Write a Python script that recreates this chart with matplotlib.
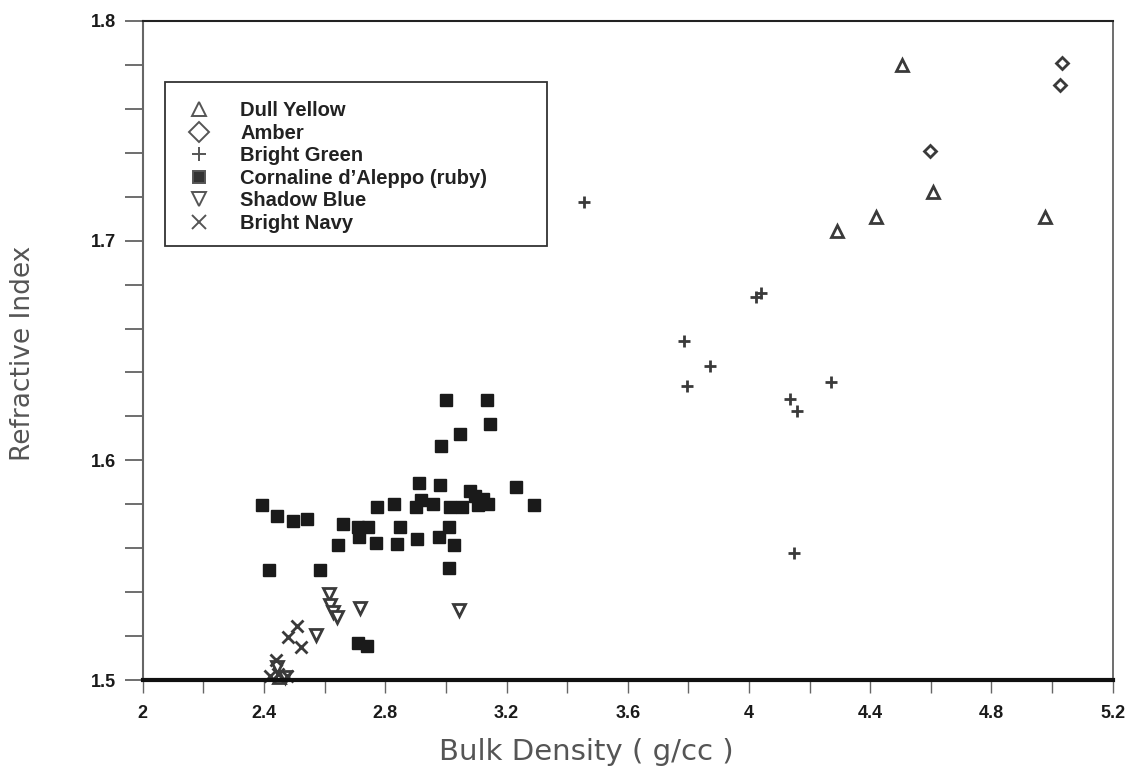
import matplotlib
matplotlib.use("Agg")
import matplotlib.pyplot as plt
from matplotlib.ticker import MultipleLocator, FuncFormatter
from matplotlib.patches import Rectangle

plt.rcParams['font.family'] = ['Liberation Sans Narrow', 'Liberation Sans', 'DejaVu Sans']

# Dull Yellow
dull_x = [4.506, 4.289, 4.420, 4.607, 4.976, 2.450]
dull_y = [1.780, 1.7045, 1.7106, 1.722, 1.7106, 1.5015]
# Amber
amber_x = [5.034, 5.025, 4.596]
amber_y = [1.7806, 1.771, 1.741]
# Bright Green
green_x = [3.455, 4.024, 4.039, 3.785, 3.871, 3.797, 4.272, 4.137, 4.158, 4.149]
green_y = [1.7174, 1.6742, 1.676, 1.6542, 1.643, 1.634, 1.6355, 1.628, 1.6224, 1.558]
# Cornaline d'Aleppo (ruby)
ruby_x = [3.000, 3.134, 3.145, 3.048, 2.983, 2.912, 2.980, 3.231, 3.079, 3.095,
          3.123, 3.139, 3.106, 3.290, 2.394, 2.441, 2.496, 2.540, 2.774, 2.828,
          2.901, 2.919, 2.958, 3.013, 3.052, 2.661, 2.710, 2.743, 2.714, 2.850,
          2.769, 2.837, 2.645, 2.903, 2.978, 3.011, 3.026, 3.011, 2.417, 2.586,
          2.710, 2.738]
ruby_y = [1.6273, 1.6273, 1.6167, 1.612, 1.6064, 1.5897, 1.589, 1.5879, 1.586, 1.584,
          1.5826, 1.580, 1.5795, 1.5795, 1.5795, 1.5745, 1.5724, 1.5732, 1.579, 1.580,
          1.5788, 1.582, 1.580, 1.5788, 1.5788, 1.571, 1.5697, 1.5697, 1.565, 1.5697,
          1.5626, 1.5621, 1.5614, 1.5644, 1.565, 1.5697, 1.5614, 1.551, 1.5503, 1.5503,
          1.5167, 1.5156]
# Shadow Blue
blue_x = [2.615, 2.619, 2.628, 2.641, 2.718, 3.044, 2.570, 2.441, 2.470]
blue_y = [1.5394, 1.534, 1.531, 1.5285, 1.5326, 1.5318, 1.5205, 1.506, 1.5015]
# Bright Navy
navy_x = [2.509, 2.480, 2.523, 2.439, 2.419, 2.474, 2.446]
navy_y = [1.5245, 1.5197, 1.5152, 1.509, 1.5018, 1.5018, 1.503]

labels = ["Dull Yellow", "Amber", "Bright Green", "Cornaline d\u2019Aleppo (ruby)",
          "Shadow Blue", "Bright Navy"]

mk = '#3a3a3a'
fig = plt.figure(figsize=(11.25, 7.72), dpi=100)
ax = fig.add_axes([0.127, 0.119, 0.862, 0.854])

ax.plot(dull_x, dull_y, ls='none', marker='^', ms=8, mfc='white', mec=mk, mew=2, label=labels[0], clip_on=False)
ax.plot(amber_x, amber_y, ls='none', marker='D', ms=6, mfc='white', mec=mk, mew=2, label=labels[1], clip_on=False)
ax.plot(green_x, green_y, ls='none', marker='+', ms=9, mec=mk, mew=2, label=labels[2], clip_on=False)
ax.plot(ruby_x, ruby_y, ls='none', marker='s', ms=9, mfc='#1a1a1a', mec='#1a1a1a', label=labels[3], clip_on=False)
ax.plot(blue_x, blue_y, ls='none', marker='v', ms=8, mfc='white', mec=mk, mew=2, label=labels[4], clip_on=False)
ax.plot(navy_x, navy_y, ls='none', marker='x', ms=9, mec=mk, mew=2, label=labels[5], clip_on=False)

ax.set_xlim(2, 5.2)
ax.set_ylim(1.5, 1.8)
ax.xaxis.set_major_locator(MultipleLocator(0.4))
ax.xaxis.set_minor_locator(MultipleLocator(0.2))
ax.yaxis.set_major_locator(MultipleLocator(0.1))
ax.yaxis.set_minor_locator(MultipleLocator(0.02))
ax.xaxis.set_major_formatter(FuncFormatter(lambda v, p: '%g' % round(v, 1)))
ax.yaxis.set_major_formatter(FuncFormatter(lambda v, p: '%.1f' % v))

ax.tick_params(axis='x', which='both', direction='out', length=9, width=1, colors='#666666',
               labelcolor='#1a1a1a', labelsize=13, pad=9)
ax.tick_params(axis='y', which='both', direction='out', length=13, width=1.2, colors='#555555',
               labelcolor='#1a1a1a', labelsize=13, pad=6)
for t in ax.get_xticklabels() + ax.get_yticklabels():
    t.set_fontweight('bold')

ax.spines['bottom'].set_linewidth(3)
ax.spines['bottom'].set_color('#111111')
ax.spines['top'].set_linewidth(1.5)
ax.spines['top'].set_color('#222222')
ax.spines['left'].set_linewidth(1.5)
ax.spines['left'].set_color('#666666')
ax.spines['right'].set_linewidth(1.2)
ax.spines['right'].set_color('#555555')

fig.text(586 / 1125, 1 - 752 / 772, 'Bulk Density ( g/cc )', fontsize=21, color='#555555',
         ha='center', va='center', family=['DejaVu Sans'])
fig.text(23 / 1125, 1 - 353 / 772, 'Refractive Index', fontsize=19, color='#555555',
         ha='center', va='center', rotation=90, family=['DejaVu Sans'])

# legend frame drawn separately (wider than its text)
fig.patches.append(Rectangle((165 / 1125, 1 - 246 / 772), 382 / 1125, 164 / 772,
                             transform=fig.transFigure, fill=False, ec='#333333', lw=1.3))
leg = ax.legend(loc='upper left', bbox_to_anchor=(184 / 1125, 1 - 101 / 772),
                bbox_transform=fig.transFigure, frameon=False, borderpad=0,
                handletextpad=1.3, labelspacing=0.18, handlelength=1.5,
                prop={'weight': 'bold', 'size': 14.5}, borderaxespad=0)
for h in leg.legend_handles:
    h.set_markersize(10)
    h.set_markeredgewidth(1.4)
    h.set_markeredgecolor('#555555')
leg.legend_handles[3].set_markersize(9)
leg.legend_handles[3].set_markerfacecolor('#333333')
for t in leg.get_texts():
    t.set_color('#222222')

fig.savefig('out.png', dpi=100)
